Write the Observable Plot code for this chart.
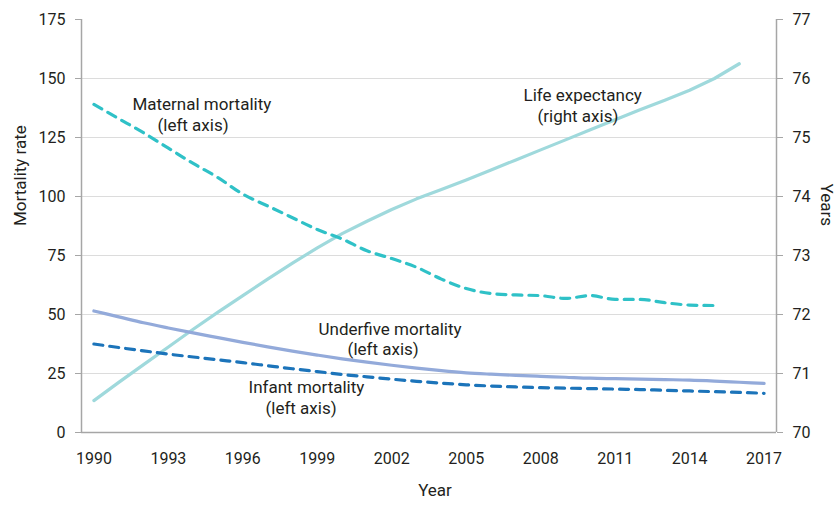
<!DOCTYPE html>
<html><head><meta charset="utf-8">
<script src="https://cdn.jsdelivr.net/npm/d3@7"></script>
<script src="https://cdn.jsdelivr.net/npm/@observablehq/plot@0.6"></script>
<style>html,body{margin:0;padding:0;background:#fff;} svg{display:block}</style>
</head><body><div id="chart"></div>
<script>
// ---- data ----
const years = d3.range(1990, 2018);
const underfive = [51.5, 49.0, 46.5, 44.3, 42.2, 40.2, 38.2, 36.3, 34.5, 32.8, 31.2, 29.8, 28.5, 27.3, 26.2, 25.3, 24.7, 24.2, 23.8, 23.4, 23.0, 22.8, 22.6, 22.4, 22.2, 21.8, 21.3, 20.8];
const infant = [37.5, 36.0, 34.6, 33.2, 32.0, 30.8, 29.6, 28.3, 27.0, 25.8, 24.6, 23.6, 22.6, 21.7, 20.9, 20.2, 19.7, 19.3, 19.0, 18.8, 18.6, 18.4, 18.2, 17.9, 17.6, 17.3, 17.0, 16.6];
const maternalYears = d3.range(1990, 2016);
const maternal = [139, 133, 127, 120.5, 114, 108, 101, 96, 91, 86, 82, 77, 73.7, 70, 65, 61, 58.9, 58.3, 58, 56.8, 58, 56.4, 56.4, 55, 54, 53.8];
const lifeYears = d3.range(1990, 2017);
const lifeExpectancy = [70.54, 70.85, 71.15, 71.45, 71.75, 72.04, 72.32, 72.6, 72.87, 73.13, 73.37, 73.58, 73.78, 73.96, 74.12, 74.28, 74.45, 74.62, 74.79, 74.96, 75.13, 75.3, 75.47, 75.63, 75.8, 76.0, 76.25];
const xTicks = [1990, 1993, 1996, 1999, 2002, 2005, 2008, 2011, 2014, 2017];
const leftTicks = [0, 25, 50, 75, 100, 125, 150, 175];
const rightTicks = [70, 71, 72, 73, 74, 75, 76, 77];
const labels = [
  {x: 1991.55, y: 139.0, text: "Maternal mortality"},
  {x: 1992.56, y: 130.2, text: "(left axis)"},
  {x: 2007.31, y: 142.6, text: "Life expectancy"},
  {x: 2007.87, y: 133.8, text: "(right axis)"},
  {x: 1999.05, y: 43.8, text: "Underfive mortality"},
  {x: 2000.22, y: 35.0, text: "(left axis)"},
  {x: 1996.23, y: 19.0, text: "Infant mortality"},
  {x: 1996.91, y: 10.2, text: "(left axis)"}
];

// right axis (70–77) mapped onto the left scale (0–175)
const rightMin = 70, rightPerUnit = 25;
const toLeft = v => (v - rightMin) * rightPerUnit;

const rows = (xs, vs) => xs.map((x, i) => ({x, v: vs[i]}));
const uData = rows(years, underfive);
const iData = rows(years, infant);
const mData = rows(maternalYears, maternal);
const lData = rows(lifeYears, lifeExpectancy);

const axisGray = "#a6a6a6";
const textCol = "#231f20";

const chart = Plot.plot({
  width: 837,
  height: 508,
  marginTop: 19,
  marginBottom: 76,
  marginLeft: 81,
  marginRight: 61,
  style: {fontFamily: "Roboto, sans-serif", fontSize: "16px", color: textCol, background: "#fff"},
  x: {domain: [1989.5, 2017.5]},
  y: {domain: [0, 175]},
  marks: [
    Plot.ruleY(leftTicks.slice(1, -1), {stroke: "#dcdcdc", strokeWidth: 1.2}),
    Plot.ruleX([1989.5, 2017.5], {stroke: axisGray, strokeWidth: 1.5}),
    Plot.ruleY([0], {stroke: axisGray, strokeWidth: 1.5}),
    Plot.axisY(leftTicks, {anchor: "left", tickSize: 6, tickPadding: 10, stroke: axisGray, fill: textCol, label: null}),
    Plot.text(["Mortality rate"], {frameAnchor: "left", rotate: -90, dx: -61, fill: textCol, fontSize: 17}),
    Plot.axisY(rightTicks.map(toLeft), {anchor: "right", tickSize: 6, tickPadding: 10, stroke: axisGray, fill: textCol, tickFormat: d => rightMin + d / rightPerUnit, label: null}),
    Plot.text(["Years"], {frameAnchor: "right", rotate: 90, dx: 50, fill: textCol, fontSize: 17}),
    Plot.axisX(xTicks, {anchor: "bottom", tickSize: 0, tickPadding: 20, fill: textCol, tickFormat: d => String(d), label: null}),
    Plot.text(["Year"], {frameAnchor: "bottom", dx: 6, dy: 63, fill: textCol, fontSize: 17}),
    Plot.line(lData, {x: "x", y: d => toLeft(d.v), stroke: "#9fd9dc", strokeWidth: 3.2}),
    Plot.line(mData, {x: "x", y: "v", stroke: "#2fc1c7", strokeWidth: 3.2, strokeDasharray: "9,7", curve: "monotone-x"}),
    Plot.line(uData, {x: "x", y: "v", stroke: "#93aada", strokeWidth: 3.2, curve: "monotone-x"}),
    Plot.line(iData, {x: "x", y: "v", stroke: "#1c74ba", strokeWidth: 3.2, strokeDasharray: "9,7", curve: "monotone-x"}),
    Plot.text(labels, {x: "x", y: "y", text: "text", textAnchor: "start", fill: textCol, fontSize: 17})
  ]
});
document.getElementById("chart").appendChild(chart);
</script>
</body></html>
